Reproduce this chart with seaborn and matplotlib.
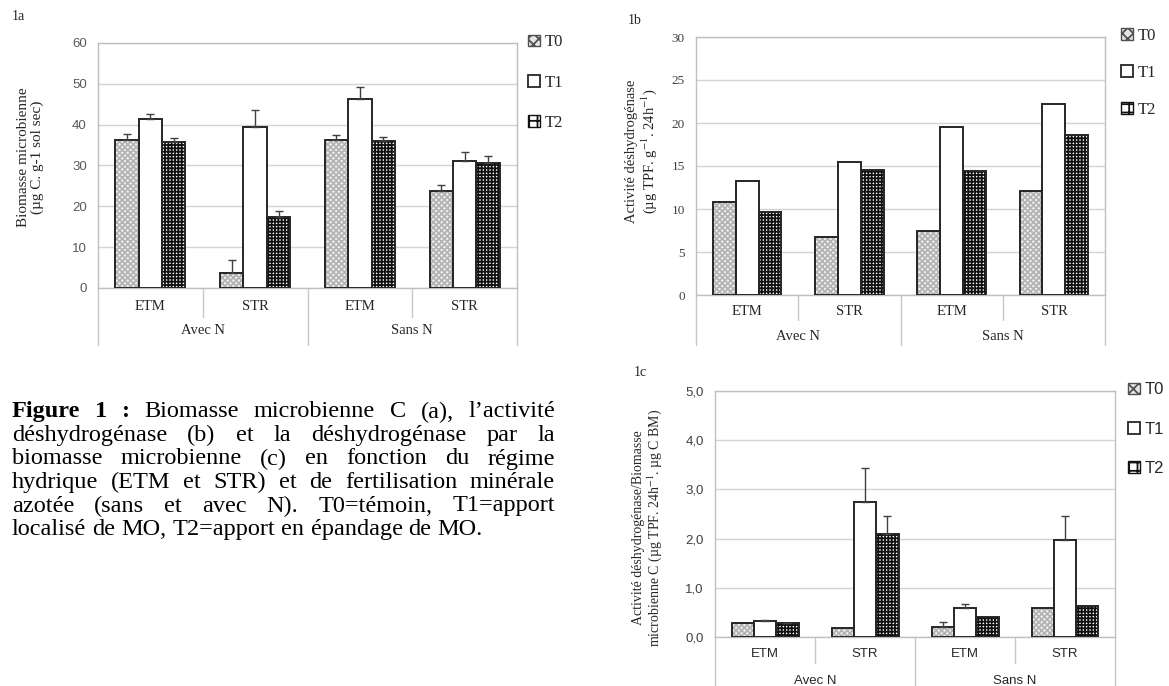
import numpy as np
import pandas as pd
import seaborn as sns
import matplotlib.pyplot as plt
import matplotlib.patches as mpatches
from matplotlib.font_manager import FontProperties

# ---- data ----
cats = ["ETM", "STR", "ETM", "STR"]
groups = ["Avec N", "Sans N"]
treatments = ["T0", "T1", "T2"]

# 1a biomasse microbienne (µg C / g sol sec)
bio_T0 = [36.3, 3.7, 36.3, 23.7]
bio_T1 = [41.5, 39.5, 46.3, 31.0]
bio_T2 = [35.8, 17.5, 35.9, 30.7]
bio_err_T0 = [1.3, 3.2, 1.1, 1.5]
bio_err_T1 = [1.0, 4.2, 2.9, 2.2]
bio_err_T2 = [0.9, 1.4, 1.1, 1.7]

# 1b activite deshydrogenase
dh_T0 = [10.8, 6.7, 7.5, 12.05]
dh_T1 = [13.3, 15.5, 19.5, 22.2]
dh_T2 = [9.6, 14.5, 14.4, 18.6]

# 1c deshydrogenase / biomasse
ratio_T0 = [0.28, 0.18, 0.21, 0.58]
ratio_T1 = [0.32, 2.74, 0.59, 1.97]
ratio_T2 = [0.28, 2.10, 0.41, 0.64]
ratio_err_T0 = [0, 0, 0.09, 0]
ratio_err_T1 = [0.02, 0.69, 0.08, 0.49]
ratio_err_T2 = [0.01, 0.36, 0, 0]

caption_lines = [
    "Biomasse microbienne C (a), l’activité",
    "déshydrogénase (b) et la déshydrogénase par la",
    "biomasse microbienne (c) en fonction du régime",
    "hydrique (ETM et STR) et de fertilisation minérale",
    "azotée (sans et avec N). T0=témoin, T1=apport",
    "localisé de MO, T2=apport en épandage de MO.",
]

W, H = 1169, 686
SERIF = ["Liberation Serif", "DejaVu Serif"]
SANS = ["Liberation Sans", "DejaVu Sans"]

sns.set_style("white")
plt.rcParams["font.family"] = SERIF
plt.rcParams["mathtext.fontset"] = "stix"
plt.rcParams["hatch.linewidth"] = 1.3

fig = plt.figure(figsize=(W / 100, H / 100), dpi=100)


def rect(x0, y0, x1, y1):
    # pixel box -> figure fraction
    return [x0 / W, 1 - y1 / H, (x1 - x0) / W, (y1 - y0) / H]


def fx(x):
    return x / W


def fy(y):
    return 1 - y / H


fills = {"T0": "#f2f2f2", "T1": "white", "T2": "white"}
hatch_col = {"T0": "#b4b4b4", "T1": "#262626", "T2": "#111111"}
hatches = {"T0": "xxxxxx", "T1": "", "T2": "+++++"}


def panel(box, t0, t1, t2, errs, ymax, ystep, fmt, tickfont, tickcol, catfont,
          legfont, offs, legx, legspace):
    ax = fig.add_axes(rect(*box))
    hpx = box[3] - box[1]
    rows = []
    for trt, vals in zip(treatments, [t0, t1, t2]):
        for i, v in enumerate(vals):
            rows.append({"slot": str(i), "val": v, "trt": trt})
    df = pd.DataFrame(rows)
    sns.barplot(data=df, x="slot", y="val", hue="trt", order=["0", "1", "2", "3"],
                hue_order=treatments, palette=fills, width=0.67, gap=0,
                errorbar=None, saturation=1, linewidth=0, ax=ax, zorder=2)
    for trt, cont in zip(treatments, ax.containers):
        for p in cont.patches:
            p.set_hatch(hatches[trt])
            p.set_edgecolor(hatch_col[trt])
            p.set_linewidth(0)
            ax.add_patch(mpatches.Rectangle(p.get_xy(), p.get_width(), p.get_height(),
                                            fill=False, edgecolor="#262626", lw=1.4, zorder=3))
    if errs is not None:
        for cont, err in zip(ax.containers, errs):
            xs = [p.get_x() + p.get_width() / 2 for p in cont.patches]
            hs = [p.get_height() for p in cont.patches]
            for x, h, e in zip(xs, hs, err):
                if e > 0:
                    ax.errorbar([x], [h], yerr=[[0], [e]], fmt="none", ecolor="#404040",
                                elinewidth=1, capsize=3, capthick=1, zorder=4)
    ax.set_xlim(-0.5, 3.5)
    ax.set_ylim(0, ymax)
    ticks = np.arange(0, ymax + ystep / 2, ystep)
    ax.set_yticks(ticks)
    ax.set_yticklabels([fmt(t) for t in ticks], fontfamily=tickfont, fontsize=9.5, color=tickcol)
    ax.tick_params(axis="y", length=0, pad=8)
    ax.set_xticks([])
    ax.set_xlabel("")
    ax.set_ylabel("")
    ax.grid(axis="y", color="#d4d4d4", lw=1, zorder=0)
    ax.set_axisbelow(True)
    for s in ax.spines.values():
        s.set_color("#bfbfbf")
        s.set_linewidth(1)
    leg = ax.get_legend()
    if leg:
        leg.remove()

    tr = ax.get_xaxis_transform()
    cat_dy, inner_dy, grp_dy, outer_dy = [d / hpx for d in offs]
    fs = 10.5 if catfont == SERIF else 9.5
    for i, c in enumerate(cats):
        ax.text(i, -cat_dy, c, transform=tr, ha="center", va="center",
                fontfamily=catfont, fontsize=fs, color="#262626")
    for j, g in enumerate(groups):
        ax.text(0.5 + 2 * j, -grp_dy, g, transform=tr, ha="center", va="center",
                fontfamily=catfont, fontsize=fs, color="#262626")
    for xb in [0.5, 2.5]:
        ax.plot([xb, xb], [0, -inner_dy], transform=tr, color="#c8c8c8", lw=1, clip_on=False)
    for xb in [-0.5, 1.5, 3.5]:
        ax.plot([xb, xb], [0, -outer_dy], transform=tr, color="#c8c8c8", lw=1, clip_on=False)

    handles = [mpatches.Patch(facecolor="#e6e6e6", edgecolor="#505050", hatch="xxx", lw=1),
               mpatches.Patch(facecolor="white", edgecolor="#262626", lw=1.3),
               mpatches.Patch(facecolor="white", edgecolor="#111111", hatch="++", lw=1)]
    wpx = box[2] - box[0]
    ax.legend(handles, treatments, loc="upper left",
              bbox_to_anchor=(1 + (legx - box[2]) / wpx, 1.035), frameon=False,
              handlelength=0.7, handleheight=0.7, handletextpad=0.3,
              labelspacing=legspace, borderaxespad=0, borderpad=0,
              prop={"family": legfont, "size": 12})
    return ax


# 1a
panel((98, 43, 517, 288), bio_T0, bio_T1, bio_T2,
      [bio_err_T0, bio_err_T1, bio_err_T2], 60, 10, lambda t: f"{t:.0f}",
      SANS, "#595959", SERIF, SERIF, (19, 29, 43, 57), 528, 1.45)
fig.text(fx(12), fy(17), "1a", fontsize=10, ha="left", va="center")
fig.text(fx(31), fy(157), "Biomasse microbienne\n(µg C. g-1 sol sec)", rotation=90,
         ha="center", va="center", multialignment="center", fontsize=11, color="#262626",
         linespacing=1.05)

# 1b
panel((696, 37, 1105, 295), dh_T0, dh_T1, dh_T2, None, 30, 5, lambda t: f"{t:.0f}",
      SERIF, "#404040", SERIF, SERIF, (16, 25, 41, 50), 1121, 1.25)
fig.text(fx(628), fy(20), "1b", fontsize=10, ha="left", va="center")
fig.text(fx(642), fy(151),
         "Activité déshydrogénase\n(µg TPF. g$^{-1}$. 24h$^{-1}$)", rotation=90,
         ha="center", va="center", multialignment="center", fontsize=10.5, color="#262626",
         linespacing=1.05)

# 1c
panel((715, 391, 1115, 637), ratio_T0, ratio_T1, ratio_T2,
      [ratio_err_T0, ratio_err_T1, ratio_err_T2], 5, 1, lambda t: f"{t:.1f}".replace(".", ","),
      SANS, "#404040", SANS, SANS, (17, 26, 44, 49), 1128, 1.45)
fig.text(fx(634), fy(373), "1c", fontsize=10, ha="left", va="center")
fig.text(fx(648), fy(528),
         "Activité déshydrogénase/Biomasse\nmicrobienne C (µg TPF. 24h$^{-1}$. µg C BM)",
         rotation=90, ha="center", va="center", multialignment="center", fontsize=10,
         color="#262626", linespacing=1.0)

# ---- justified caption ----
renderer = fig.canvas.get_renderer()
x_left, x_right = 12, 555
y0, dy = 412, 23.5
cap_size = 17.5
for k, line in enumerate(caption_lines):
    words = [(w, "normal") for w in line.split(" ")]
    if k == 0:
        words = [("Figure", "bold"), ("1", "bold"), (":", "bold")] + words
    y = y0 + k * dy
    widths = []
    for w, wt in words:
        fp = FontProperties(family=SERIF, size=cap_size, weight=wt)
        widths.append(renderer.get_text_width_height_descent(w, fp, ismath=False)[0])
    if k < len(caption_lines) - 1:
        gap = (x_right - x_left - sum(widths)) / (len(words) - 1)
    else:
        gap = cap_size * 100 / 72 * 0.25
    x = x_left
    for (w, wt), wd in zip(words, widths):
        fig.text(fx(x), fy(y), w, fontsize=cap_size, fontweight=wt, ha="left",
                 va="center", color="black")
        x += wd + gap

fig.savefig("out.png", dpi=100)
